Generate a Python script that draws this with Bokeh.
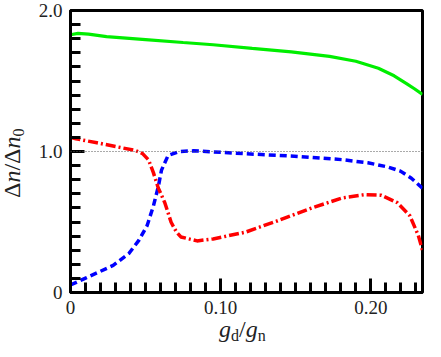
import math
from bokeh.plotting import figure
from bokeh.models import Range1d, FixedTicker, PrintfTickFormatter, Span, Div
from bokeh.layouts import row, column
from bokeh.embed import file_html
from bokeh.resources import INLINE

# ---- data ----
green_x = [0, 0.005, 0.012, 0.024, 0.05, 0.075, 0.095, 0.121, 0.147, 0.1725,
           0.19, 0.205, 0.2155, 0.224, 0.229, 0.2344]
green_y = [1.828, 1.838, 1.833, 1.815, 1.794, 1.773, 1.757, 1.731, 1.706, 1.675,
           1.64, 1.59, 1.537, 1.48, 1.445, 1.405]

blue_x = [0, 0.0104, 0.0176, 0.0284, 0.039, 0.0455, 0.051, 0.0552, 0.0585, 0.0606,
          0.065, 0.0725, 0.082, 0.095, 0.1165, 0.149, 0.181, 0.198, 0.211, 0.2197,
          0.227, 0.2344]
blue_y = [0.053, 0.104, 0.139, 0.192, 0.278, 0.37, 0.474, 0.613, 0.752, 0.868,
          0.972, 1.0, 1.005, 0.997, 0.984, 0.967, 0.942, 0.92, 0.891, 0.861,
          0.81, 0.74]

red_x = [0, 0.0036, 0.0176, 0.03, 0.0434, 0.048, 0.052, 0.0552, 0.0585, 0.0628,
         0.067, 0.0705, 0.0735, 0.0843, 0.095, 0.1165, 0.138, 0.1595, 0.181, 0.196,
         0.207, 0.2176, 0.226, 0.2316, 0.2344]
red_y = [1.10, 1.09, 1.062, 1.035, 1.007, 0.985, 0.94, 0.85, 0.74, 0.637,
         0.498, 0.43, 0.394, 0.366, 0.38, 0.428, 0.509, 0.595, 0.671, 0.694,
         0.69, 0.637, 0.544, 0.405, 0.30]

reference_level = 1.0

x_major_ticks = [0, 0.1, 0.2]
y_major_ticks = [0, 1.0, 2.0]
x_minor_ticks = [round(0.01 * i, 2) for i in range(24) if i % 10 != 0]
y_minor_ticks = [round(0.1 * i, 1) for i in range(21) if i % 10 != 0]
x_min, x_max = 0, 0.2344
y_min, y_max = 0, 2.0

x_label_html = "<i>g</i><span style='font-size:16px;position:relative;top:4px'>d</span>/<i>g</i><span style='font-size:16px;position:relative;top:4px'>n</span>"
y_label_html = "&Delta;<i>n</i>/&Delta;<i>n</i><span style='font-size:16px;position:relative;top:4px'>0</span>"

FONT = "Liberation Serif"

p = figure(width=400, height=321, output_backend="svg", toolbar_location=None,
           x_range=Range1d(x_min, x_max), y_range=Range1d(y_min, y_max),
           min_border_left=45, min_border_right=3, min_border_top=10,
           min_border_bottom=29, margin=0)
p.background_fill_color = "white"
p.border_fill_color = "white"
p.outline_line_color = "black"
p.outline_line_width = 3
p.xgrid.visible = False
p.ygrid.visible = False

p.xaxis.ticker = FixedTicker(ticks=x_major_ticks, minor_ticks=x_minor_ticks)
p.yaxis.ticker = FixedTicker(ticks=y_major_ticks, minor_ticks=y_minor_ticks)
p.xaxis.formatter = PrintfTickFormatter(format="%.2f")
p.yaxis.formatter = PrintfTickFormatter(format="%.1f")
p.xaxis.major_label_overrides = {0: "0"}
p.yaxis.major_label_overrides = {0: "0"}

for ax in (p.xaxis, p.yaxis):
    ax.axis_line_width = 3
    ax.axis_line_color = "black"
    ax.major_tick_in = 14
    ax.major_tick_out = 0
    ax.minor_tick_in = 10
    ax.minor_tick_out = 0
    ax.major_tick_line_color = "black"
    ax.minor_tick_line_color = "black"
    ax.major_tick_line_width = 3
    ax.minor_tick_line_width = 3
    ax.major_label_text_font = FONT
    ax.major_label_text_font_size = "19px"
    ax.major_label_text_color = "#222222"
    ax.major_label_standoff = 8

p.add_layout(Span(location=reference_level, dimension="width", line_color="#555555",
                  line_width=1, line_dash="1 2"))

p.line(green_x, green_y, line_color="#00ee00", line_width=3.2)
p.line(blue_x, blue_y, line_color="#0000ff", line_width=3.5, line_dash="7 4")
p.line(red_x, red_y, line_color="#ff0000", line_width=3.5, line_dash="10 3 2 3")

base_style = "font-family:'Liberation Serif',serif;font-size:24px;color:#222222;white-space:nowrap;"
ydiv = Div(width=25, height=321, margin=0,
           text=f"<div style=\"{base_style}position:absolute;left:3px;top:198px;"
                f"line-height:18px;transform-origin:0 0;transform:rotate(-90deg);\">{y_label_html}</div>")
xdiv = Div(width=425, height=20, margin=0,
           text=f"<div style=\"{base_style}position:absolute;left:219px;top:0px;"
                f"line-height:16px;\">{x_label_html}</div>")

layout = column(row(ydiv, p, spacing=0, margin=0), xdiv, spacing=0, margin=0)

open("out.html", "w").write(file_html(layout, INLINE))
